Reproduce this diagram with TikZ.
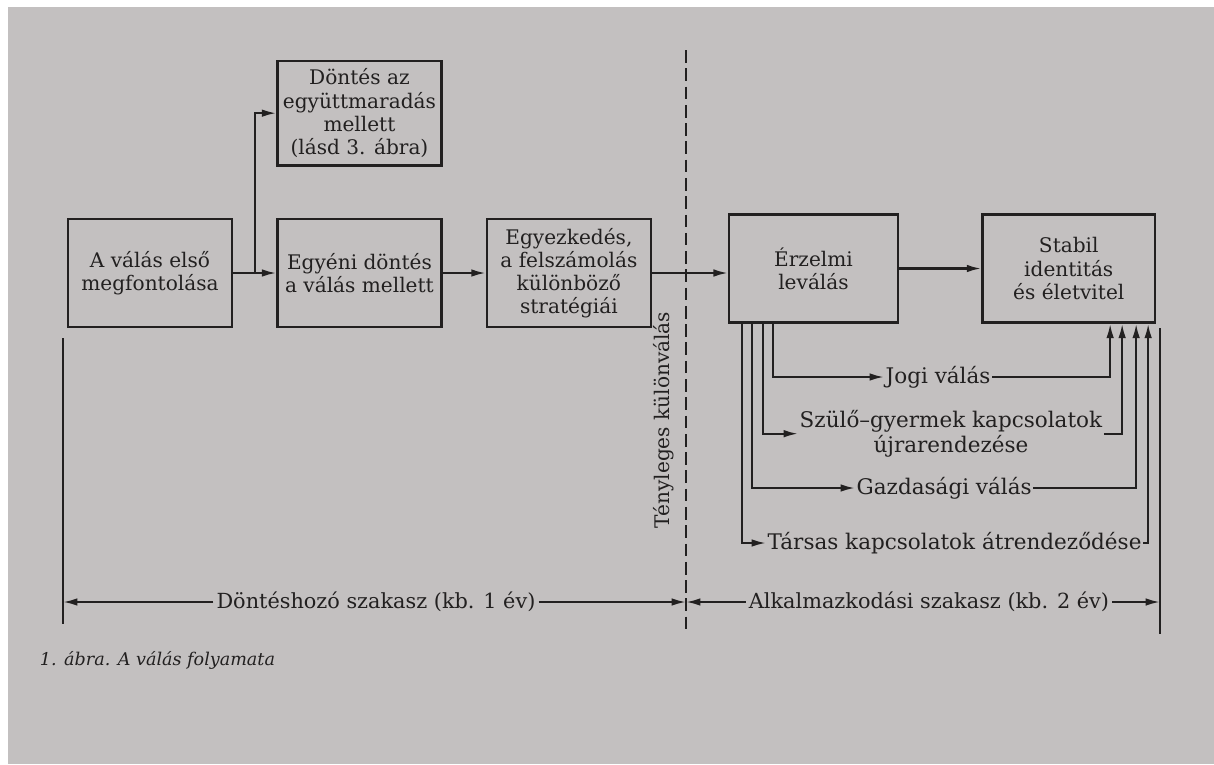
\documentclass[tikz,border=0pt]{standalone}
\usepackage{fontspec}
\setmainfont{DejaVu Serif}
\usetikzlibrary{arrows.meta,positioning,calc}
\definecolor{paper}{HTML}{C3C0C0}
\definecolor{ink}{HTML}{222020}
\tikzset{
  stage/.style={draw=ink,line width=1.7pt,align=center,text=ink,
    minimum width=4.1cm,minimum height=2.7cm,inner sep=1pt,
    font=\fontsize{14.3}{16.5}\selectfont},
  track/.style={font=\fontsize{15.3}{18}\selectfont,text=ink,inner sep=1pt},
  phase/.style={font=\fontsize{14.8}{17}\selectfont,text=ink,inner sep=2pt},
  arrow/.style={-{Latex[length=3.6mm,width=1.9mm]},draw=ink,line width=1.5pt},
  rule/.style={draw=ink,line width=1.6pt},
  divider/.style={draw=ink,line width=1.4pt,dash pattern=on 9pt off 4pt}
}
\begin{document}
\begin{tikzpicture}[x=0.025cm,y=-0.025cm,node distance=1.075cm and 1.075cm]
  % page
  \fill[white] (0,0) rectangle (1214,764);
  \fill[paper] (8,7) rectangle (1214,764);
  \useasboundingbox (0,0) rectangle (1214,764);

  % decision phase
  \node[stage] (first) at (150,273) {A válás első\\megfontolása};
  \node[stage,right=of first] (indiv) {Egyéni döntés\\a válás mellett};
  \node[stage,right=of indiv] (bargain) {Egyezkedés,\\a felszámolás\\különböző\\stratégiái};
  \node[stage,minimum height=2.62cm,above=1.275cm of indiv] (stay) {Döntés az\\együttmaradás\\mellett\\(lásd 3. ábra)};

  % adjustment phase
  \node[stage,minimum width=4.22cm] (emot) at (813.5,268.5) {Érzelmi\\leválás};
  \node[stage,minimum width=4.32cm,right=2.05cm of emot] (stable) {Stabil\\identitás\\és életvitel};

  \coordinate (split) at ($(first.east)!0.5!(indiv.west)$);
  \draw[arrow] (first) -- (indiv);
  \draw[arrow] (split) |- (stay);
  \draw[arrow] (indiv) -- (bargain);
  \draw[arrow] (bargain.east) -- (bargain.east -| emot.west);
  \draw[arrow] (emot.east) -- (emot.east -| stable.west);

  % separation line
  \draw[divider] (686,50) -- (686,632);
  \node[phase,font=\fontsize{14.3}{17}\selectfont,rotate=90] (apart) at (664,420) {Tényleges különválás};

  % parallel processes
  \node[track,anchor=west] (legal) at (884,377) {Jogi válás};
  \node[track,anchor=west] (parent) at (798,421) {Szülő–gyermek kapcsolatok};
  \node[track,below=0pt of parent] (parent2) {újrarendezése};
  \node[track,anchor=west] (money) at (855,488) {Gazdasági válás};
  \node[track,anchor=west] (social) at (766,543) {Társas kapcsolatok átrendeződése};

  \draw[arrow] ($(emot.south west)+(45,0)$) |- (legal.west);
  \draw[arrow] (legal.east) -| ($(stable.south west)+(129,0)$);
  \draw[arrow] ($(emot.south west)+(35,0)$) |- (parent.south west);
  \draw[arrow] (parent.south east) -| ($(stable.south west)+(141,0)$);
  \draw[arrow] ($(emot.south west)+(24,0)$) |- (money.west);
  \draw[arrow] (money.east) -| ($(stable.south west)+(155,0)$);
  \draw[arrow] ($(emot.south west)+(14,0)$) |- (social.west);
  \draw[arrow] (social.east) -| ($(stable.south west)+(167,0)$);

  % time axis
  \draw[rule] (63,338) -- (63,624);
  \draw[rule] (1160,328) -- (1160,634);
  \coordinate (leftEnd) at (63,602);
  \coordinate (sepMid) at (686,602);
  \coordinate (rightEnd) at (1160,602);
  \node[phase] (decide) at (376,602) {Döntéshozó szakasz (kb. 1 év)};
  \node[phase] (adapt) at (929,602) {Alkalmazkodási szakasz (kb. 2 év)};
  \draw[arrow] (decide) -- (leftEnd);
  \draw[arrow] (decide) -- (sepMid);
  \draw[arrow] (adapt) -- (sepMid);
  \draw[arrow] (adapt) -- (rightEnd);

  \node[anchor=west,text=ink,font=\fontsize{12.5}{15}\selectfont\itshape] (caption) at (35,660) {1. ábra. A válás folyamata};
\end{tikzpicture}
\end{document}
